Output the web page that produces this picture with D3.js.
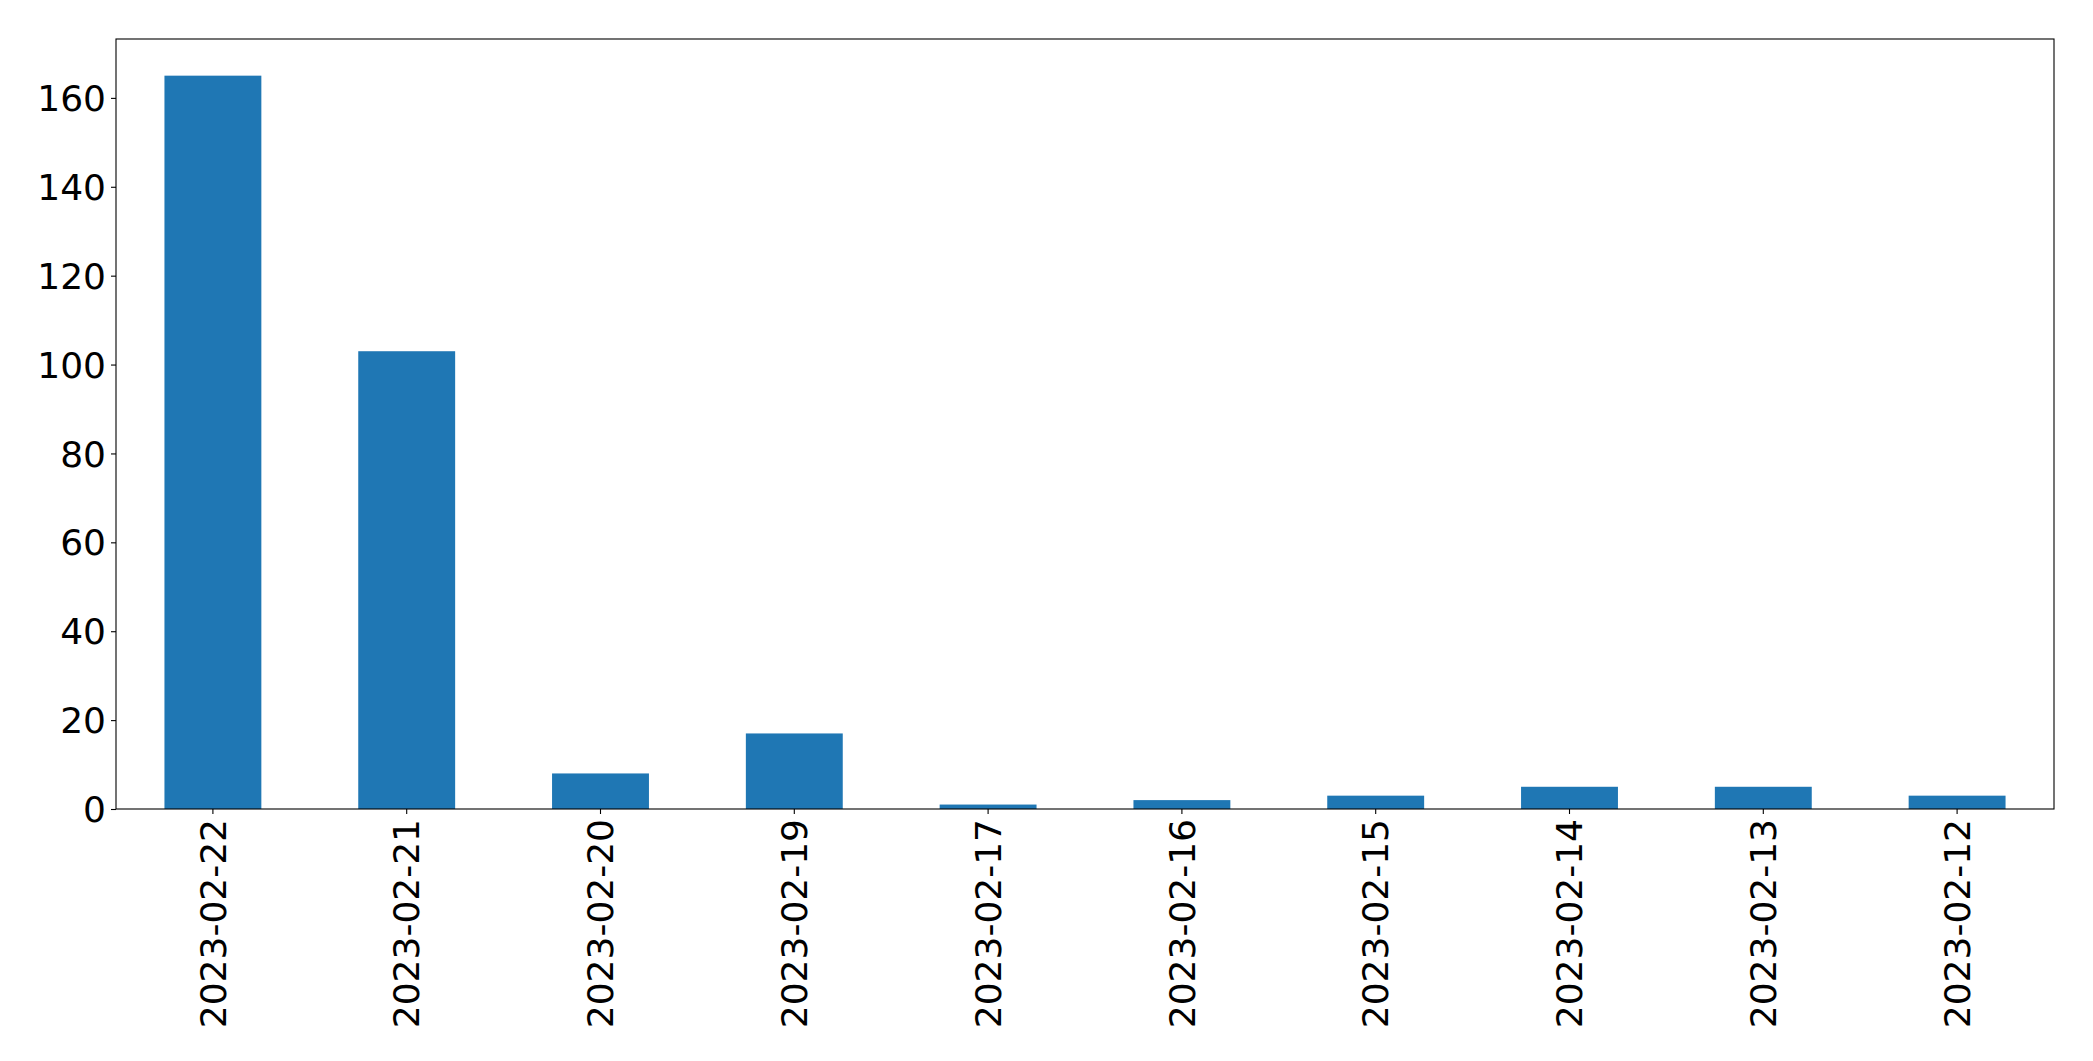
<!DOCTYPE html>
<html>
<head>
<meta charset="utf-8">
<script src="https://cdn.jsdelivr.net/npm/d3@7"></script>
<style>
  html, body { margin: 0; padding: 0; background: #fff; }
  svg { display: block; }
  .tick text { font-family: "DejaVu Sans", sans-serif; }
</style>
</head>
<body>
<svg id="chart" width="2093" height="1061"></svg>
<script>
const categories = ["2023-02-22","2023-02-21","2023-02-20","2023-02-19","2023-02-17","2023-02-16","2023-02-15","2023-02-14","2023-02-13","2023-02-12"];
const values = [165, 103, 8, 17, 1, 2, 3, 5, 5, 3];
const yTicks = [0, 20, 40, 60, 80, 100, 120, 140, 160];

const W = 2093, H = 1061;
const margin = { left: 116, top: 39, right: W - 2054, bottom: H - 809 };
const pw = W - margin.left - margin.right;
const ph = H - margin.top - margin.bottom;
const svg = d3.select("#chart");
const g = svg.append("g").attr("transform", `translate(${margin.left},${margin.top})`);

const x = d3.scaleBand().domain(categories).range([0, pw]).paddingInner(0.5).paddingOuter(0.25);
const y = d3.scaleLinear().domain([0, d3.max(values) * 1.05]).range([ph, 0]);

g.selectAll("rect.bar").data(values).enter().append("rect")
  .attr("class", "bar")
  .attr("x", (d, i) => x(categories[i]))
  .attr("y", d => y(d))
  .attr("width", x.bandwidth())
  .attr("height", d => y(0) - y(d))
  .attr("fill", "#1f77b4");

const fs = 36;
const yAxis = g.append("g").call(d3.axisLeft(y).tickValues(yTicks).tickSize(5).tickPadding(5).tickFormat(d3.format("d")));
yAxis.select(".domain").remove();
yAxis.selectAll(".tick line").attr("stroke", "#000").attr("stroke-width", 1.1);
yAxis.selectAll(".tick text").attr("font-size", fs).attr("fill", "#000").attr("dy", "0.35em");

const xAxis = g.append("g").attr("transform", `translate(0,${ph})`).call(d3.axisBottom(x).tickSize(5).tickPadding(5));
xAxis.select(".domain").remove();
xAxis.selectAll(".tick line").attr("stroke", "#000").attr("stroke-width", 1.1);
xAxis.selectAll(".tick text")
  .attr("font-size", fs).attr("fill", "#000")
  .attr("transform", "rotate(-90)")
  .attr("text-anchor", "end")
  .attr("x", -10).attr("y", 0).attr("dy", "0.35em");

g.append("rect").attr("x", 0).attr("y", 0).attr("width", pw).attr("height", ph)
  .attr("fill", "none").attr("stroke", "#000").attr("stroke-width", 1.1);
</script>
</body>
</html>
